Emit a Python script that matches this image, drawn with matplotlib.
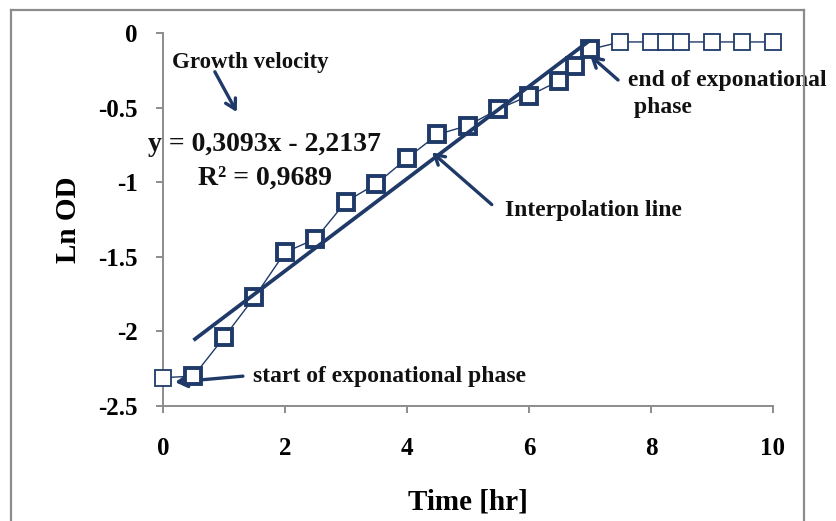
import matplotlib
matplotlib.use("Agg")
import matplotlib.pyplot as plt
from matplotlib.lines import Line2D

# Measured growth curve: time in hours and natural log of optical density
time_hr = [0, 0.5, 1, 1.5, 2, 2.5, 3, 3.5, 4, 4.5, 5, 5.5, 6, 6.5, 6.75, 7,
           7.5, 8, 8.25, 8.5, 9, 9.5, 10]
ln_od = [-2.31, -2.30, -2.04, -1.77, -1.47, -1.38, -1.13, -1.01, -0.84, -0.68,
         -0.62, -0.51, -0.42, -0.32, -0.22, -0.11,
         -0.06, -0.06, -0.06, -0.06, -0.06, -0.06, -0.06]
# Exponential-phase points (highlighted with heavy markers)
exp_start, exp_end = 1, 15

# Linear fit over the exponential phase
slope, intercept, r2 = 0.3093, -2.2137, 0.9689
fit_x = [0.5, 7.0]

x_ticks = [0, 2, 4, 6, 8, 10]
y_ticks = [0, -0.5, -1, -1.5, -2, -2.5]
y_tick_labels = ["0", "-0.5", "-1", "-1.5", "-2", "-2.5"]

navy = "#1f3a68"
gray = "#8c8c8c"
serif = ["Liberation Serif", "DejaVu Serif"]

fig = plt.figure(figsize=(8.37, 5.21), dpi=100)
ax = fig.add_axes([163 / 837, 1 - 406 / 521, 610 / 837, 373 / 521])

# Outer chart frame
for xs, ys in [([0.0131, 0.0131], [-0.01, 0.9808]),
               ([0.0131, 0.9606], [0.9808, 0.9808]),
               ([0.9606, 0.9606], [0.9808, -0.01])]:
    fig.add_artist(Line2D(xs, ys, transform=fig.transFigure, color=gray, lw=1.6))

# Connecting line through all observations
ax.plot(time_hr, ln_od, color=navy, lw=1.0, zorder=3, clip_on=False)
# Thin markers outside the exponential phase
thin_idx = [i for i in range(len(time_hr)) if i < exp_start or i > exp_end]
ax.plot([time_hr[i] for i in thin_idx], [ln_od[i] for i in thin_idx], ls="none",
        marker="s", ms=11.5, mfc="white", mec=navy, mew=1.3, zorder=4, clip_on=False)
# Heavy markers within the exponential phase
ax.plot(time_hr[exp_start:exp_end + 1], ln_od[exp_start:exp_end + 1], ls="none",
        marker="s", ms=11.5, mfc="white", mec=navy, mew=2.8, zorder=5, clip_on=False)

# Fitted trend line
fit_y = [slope * x + intercept for x in fit_x]
ax.plot(fit_x, fit_y, color=navy, lw=2.7, zorder=6, solid_capstyle="butt")

ax.set_xlim(0, 10)
ax.set_ylim(-2.5, 0)
ax.set_xticks(x_ticks)
ax.set_yticks(y_ticks)
ax.set_xticklabels([str(t) for t in x_ticks])
ax.set_yticklabels(y_tick_labels)
for s in ["top", "right"]:
    ax.spines[s].set_visible(False)
for s in ["left", "bottom"]:
    ax.spines[s].set_color(gray)
    ax.spines[s].set_linewidth(1.4)
ax.tick_params(axis="both", direction="out", length=5, width=1.4, color=gray)
ax.tick_params(axis="y", pad=13)
ax.tick_params(axis="x", pad=17)
for lab in ax.get_xticklabels() + ax.get_yticklabels():
    lab.set_fontfamily(serif)
    lab.set_fontweight("bold")
    lab.set_fontsize(18)
    lab.set_color("black")

ax.set_xlabel("Time [hr]", fontfamily=serif, fontweight="bold", fontsize=21, labelpad=21)
ax.set_ylabel("Ln OD", fontfamily=serif, fontweight="bold", fontsize=21, labelpad=12)

txt = dict(fontfamily=serif, fontweight="bold", color="#111111")
arrow = dict(arrowstyle="->,head_length=0.7,head_width=0.4", color=navy, lw=2.4,
             shrinkA=0, shrinkB=0)

ax.text(1.43, -0.2, "Growth velocity", ha="center", va="center", fontsize=16.5, **txt)
ax.annotate("", xy=(1.21, -0.53), xytext=(0.85, -0.26), arrowprops=arrow)

ax.text(1.66, -0.75, f"y = {slope:.4f}x - {abs(intercept):.4f}".replace(".", ","),
        ha="center", va="center", fontsize=20, **txt)
ax.text(1.67, -0.975, f"R² = {r2:.4f}".replace(".", ","),
        ha="center", va="center", fontsize=20, **txt)

ax.text(5.61, -1.19, "Interpolation line", ha="left", va="center", fontsize=17, **txt)
ax.annotate("", xy=(4.41, -0.80), xytext=(5.39, -1.15), arrowprops=arrow)

ax.text(7.62, -0.41, "end of exponational\n phase", ha="left", va="center",
        fontsize=17, linespacing=1.35, clip_on=False, **txt)
ax.annotate("", xy=(7.0, -0.15), xytext=(7.46, -0.315), arrowprops=arrow)

ax.text(1.48, -2.305, "start of exponational phase", ha="left", va="center",
        fontsize=17, **txt)
ax.annotate("", xy=(0.2, -2.34), xytext=(1.31, -2.30), arrowprops=arrow)

fig.savefig("out.png", dpi=100)
